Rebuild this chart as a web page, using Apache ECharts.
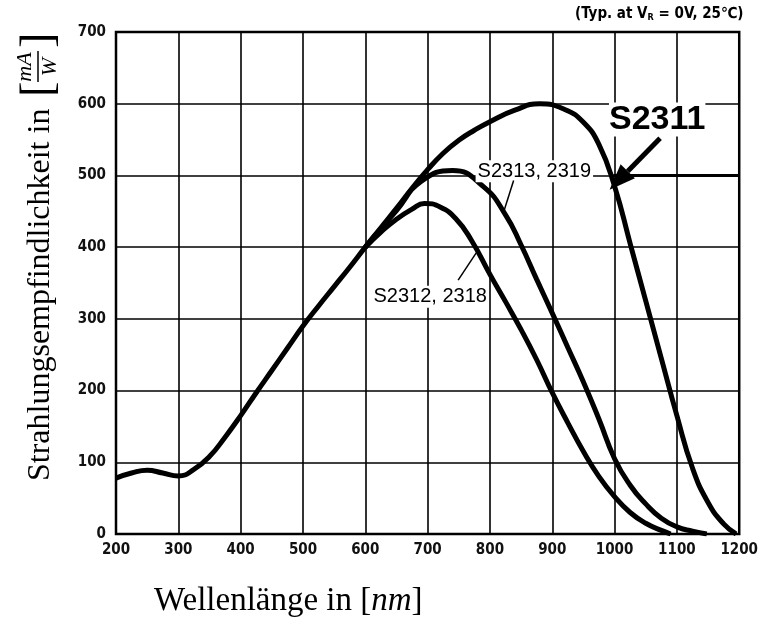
<!DOCTYPE html>
<html>
<head>
<meta charset="utf-8">
<script src="https://cdn.jsdelivr.net/npm/echarts@6/dist/echarts.min.js"></script>
<style>
html,body{margin:0;padding:0;background:#fff;}
#c{width:761px;height:627px;}
</style>
</head>
<body>
<div id="c"></div>
<script>
// Wavelength (nm) / responsivity (mA/W) pairs
const s2311 = [[200,78],[225,85],[250,89],[275,85],[300,81],[325,90],[350,108],[375,135],[400,165],[425,197],[450,228],[475,259],[500,290],[525,318],[550,345],[575,372],[600,400],[625,427],[650,454],[675,482],[700,508],[725,531],[750,549],[775,563],[800,575],[840,591],[880,600],[920,592],[950,574],[975,543],[1000,485],[1025,405],[1050,325],[1075,245],[1100,165],[1125,92],[1150,44],[1175,14],[1195,0]];
const s2313 = [[600,400],[625,426],[650,451],[690,492],[740,507],[790,484],[825,445],[850,403],[875,355],[900,308],[925,260],[950,212],[975,160],[1000,105],[1025,68],[1050,42],[1075,22],[1100,10],[1125,4],[1148,0]];
const s2312 = [[600,400],[625,421],[650,439],[675,453],[695,461],[720,456],[745,440],[770,410],[800,362],[825,324],[850,285],[875,243],[900,197],[925,155],[950,115],[975,80],[1000,52],[1025,30],[1050,15],[1075,5],[1090,0]];
const xTicks = [200,300,400,500,600,700,800,900,1000,1100,1200];
const yTicks = [0,100,200,300,400,500,600,700];
const curveNames = ['S2311','S2313, 2319','S2312, 2318'];

const chart = echarts.init(document.getElementById('c'));
const sansN = '"Liberation Sans Narrow","DejaVu Sans Condensed",Arial,sans-serif';
const sans = '"Liberation Sans",Arial,sans-serif';
const serif = '"Liberation Serif","DejaVu Serif",serif';
const tickFont = {color:'#111', fontSize:15, fontFamily:sansN, fontWeight:'bold'};
const mk = (name, data) => ({
  name, type:'line', data, smooth:0.5, showSymbol:false, symbol:'none',
  lineStyle:{color:'#000', width:5}, z:5, animation:false
});
chart.setOption({
  animation:false,
  grid:{left:116, right:17, top:32, bottom:93},
  xAxis:{type:'value', min:200, max:1200, interval:100,
    axisLine:{show:true, lineStyle:{color:'#000', width:2}},
    axisTick:{show:false},
    axisLabel:Object.assign({margin:9, formatter:v=>xTicks.includes(v)?String(v):''}, tickFont),
    splitLine:{show:true, lineStyle:{color:'#000', width:1.6}}
  },
  yAxis:{type:'value', min:0, max:700, interval:100,
    axisLine:{show:true, lineStyle:{color:'#000', width:2}},
    axisTick:{show:false},
    axisLabel:Object.assign({margin:10, formatter:v=>yTicks.includes(v)?String(v):''}, tickFont),
    splitLine:{show:true, lineStyle:{color:'#000', width:1.6}}
  },
  series:[mk(curveNames[0], s2311), mk(curveNames[1], s2313), mk(curveNames[2], s2312)]
});

const px = (x,y)=>chart.convertToPixel({gridIndex:0},[x,y]);

// annotation anchors in data coordinates
const lab2313 = px(777,506), tip2313 = px(822,449), tail2313 = px(838,493);
const lab2312 = px(610,331), tip2312 = px(778,392), tail2312 = px(749,354);
const lab2311 = px(991,578), arrowStart = px(1073,552), arrowTip = px(992,480), arrowLineEnd = px(1200,500), arrowLineStart = px(998,500);

const ang = Math.atan2(arrowTip[1]-arrowStart[1], arrowTip[0]-arrowStart[0]);
const hl = 26, hw = 10;
const bx = arrowTip[0]-hl*Math.cos(ang), by = arrowTip[1]-hl*Math.sin(ang);
const nx = -Math.sin(ang)*hw, ny = Math.cos(ang)*hw;

const g = [
  {type:'rect', shape:{x:px(200,700)[0], y:px(200,700)[1], width:px(1200,0)[0]-px(200,0)[0], height:px(0,0)[1]-px(0,700)[1]}, style:{fill:'none', stroke:'#000', lineWidth:2.5}, z:10},
  {type:'text', left:575, top:7, style:{rich:{a:{font:'bold 15px '+sansN, fill:'#000'}, s:{font:'bold 9px '+sansN, fill:'#000', verticalAlign:'bottom', padding:[5,0,0,0]}}, text:'{a|(Typ. at V}{s|R}{a| = 0V, 25℃)}'}},
  // S2313 label + leader
  {type:'text', x:lab2313[0], y:lab2313[1], style:{text:curveNames[1], fill:'#000', font:'20px '+sans, verticalAlign:'middle', backgroundColor:'#fff', padding:[1,2]}, z:20},
  {type:'line', shape:{x1:tail2313[0], y1:tail2313[1], x2:tip2313[0], y2:tip2313[1]}, style:{stroke:'#000', lineWidth:1.5}, z:20},
  // S2312 label + leader
  {type:'text', x:lab2312[0], y:lab2312[1], style:{text:curveNames[2], fill:'#000', font:'20px '+sans, verticalAlign:'middle', backgroundColor:'#fff', padding:[1,2]}, z:20},
  {type:'line', shape:{x1:tail2312[0], y1:tail2312[1], x2:tip2312[0], y2:tip2312[1]}, style:{stroke:'#000', lineWidth:1.5}, z:20},
  // S2311 label + arrow
  {type:'text', x:lab2311[0], y:lab2311[1], style:{text:curveNames[0], fill:'#000', font:'bold 34px Arial,"Liberation Sans",sans-serif', verticalAlign:'middle', backgroundColor:'#fff'}, z:20},
  {type:'line', shape:{x1:arrowStart[0], y1:arrowStart[1], x2:bx, y2:by}, style:{stroke:'#000', lineWidth:5}, z:20},
  {type:'polygon', shape:{points:[[arrowTip[0],arrowTip[1]],[bx+nx,by+ny],[bx-nx,by-ny]]}, style:{fill:'#000'}, z:20},
  {type:'line', shape:{x1:arrowLineStart[0], y1:arrowLineStart[1], x2:arrowLineEnd[0], y2:arrowLineEnd[1]}, style:{stroke:'#000', lineWidth:3}, z:20},
  // x axis name
  {type:'text', left:154, top:585, style:{rich:{a:{font:'33px '+serif, fill:'#000'}, i:{font:'italic 33px '+serif, fill:'#000'}}, text:'{a|Wellenlänge in [}{i|nm}{a|]}'}},
  // y axis name (rotated group)
  {type:'group', x:57, y:481, rotation:Math.PI/2, children:[
    {type:'text', x:0, y:0, style:{text:'Strahlungsempfindlichkeit in', font:'32px '+serif, fill:'#000', verticalAlign:'bottom'}},
    {type:'text', x:384, y:6, style:{text:'[', font:'46px '+serif, fill:'#000', verticalAlign:'bottom'}},
    {type:'text', x:414, y:-21, style:{text:'mA', font:'italic 22px '+serif, fill:'#000', align:'center', verticalAlign:'bottom'}},
    {type:'line', shape:{x1:399, y1:-19, x2:430, y2:-19}, style:{stroke:'#000', lineWidth:1.5}},
    {type:'text', x:414, y:4, style:{text:'W', font:'italic 22px '+serif, fill:'#000', align:'center', verticalAlign:'bottom'}},
    {type:'text', x:433, y:6, style:{text:']', font:'46px '+serif, fill:'#000', verticalAlign:'bottom'}}
  ]}
];
chart.setOption({graphic:g});
</script>
</body>
</html>
